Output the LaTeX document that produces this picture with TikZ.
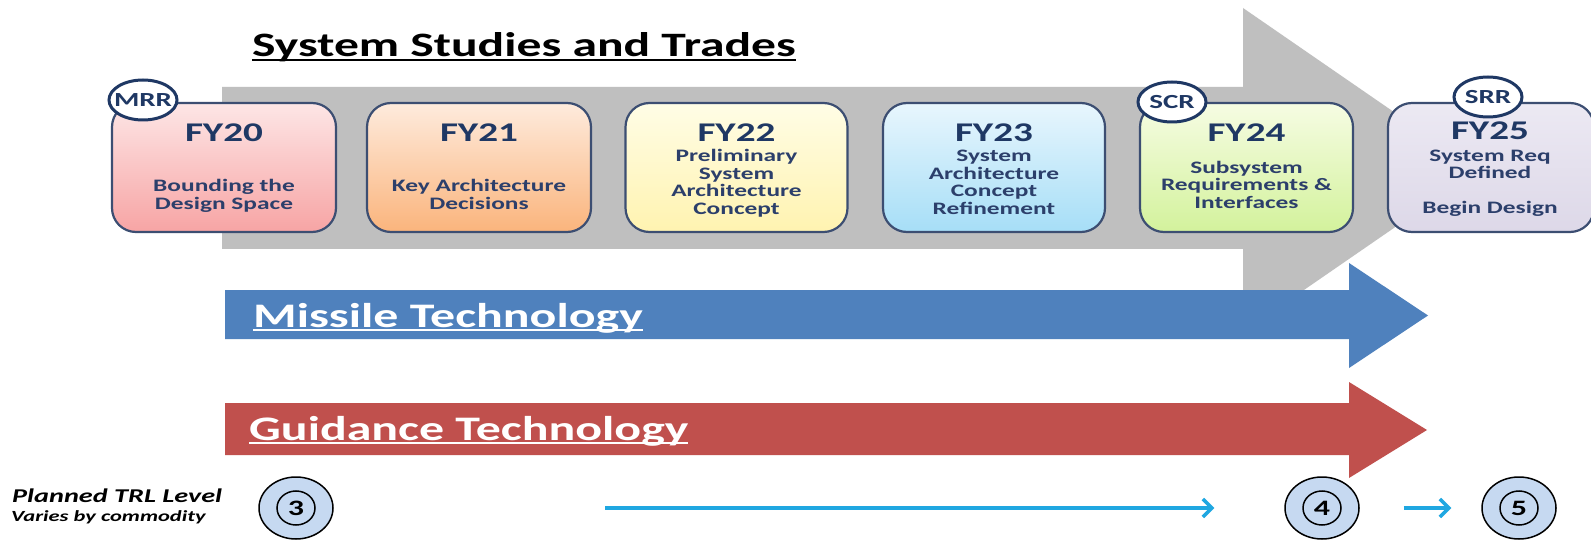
\documentclass[tikz,border=0pt]{standalone}
\usepackage{fontspec}
\setmainfont{Carlito}
\usetikzlibrary{arrows.meta,shapes.geometric}
\definecolor{garrow}{HTML}{BFBFBF}
\definecolor{bord}{HTML}{3C4E72}
\definecolor{navy}{HTML}{1F3864}
\definecolor{subc}{HTML}{2C3F6B}
\definecolor{blueA}{HTML}{4F81BD}
\definecolor{redA}{HTML}{C0504D}
\definecolor{cyanA}{HTML}{1FA7E1}
\definecolor{trl}{HTML}{C6D9F1}
\definecolor{p20t}{HTML}{FDE6E6}\definecolor{p20b}{HTML}{F7A4A4}
\definecolor{p21t}{HTML}{FEEBDD}\definecolor{p21b}{HTML}{FAB47C}
\definecolor{p22t}{HTML}{FFFDE6}\definecolor{p22b}{HTML}{FFF3B0}
\definecolor{p23t}{HTML}{E8F6FD}\definecolor{p23b}{HTML}{A6DEF7}
\definecolor{p24t}{HTML}{F6FCE3}\definecolor{p24b}{HTML}{D3F29C}
\definecolor{p25t}{HTML}{ECE9F3}\definecolor{p25b}{HTML}{DDD8E8}
\newcommand\hs[1]{\scalebox{1.45}[1]{#1}}
\newcommand\ulx[1]{\setbox0=\hbox{#1}\rlap{\rule[-0.13em]{\wd0}{0.06em}}\box0}
\newcommand\stk[2]{\vtop{\baselineskip=#1\lineskiplimit=-\maxdimen\lineskip=0pt\halign{\hfil##\hfil\cr#2\crcr}}}
\begin{document}
\begin{tikzpicture}[x=1pt,y=-1pt,
  fybox/.style={draw=bord, line width=2.2pt, rounded corners=24pt, minimum height=129pt, inner sep=0pt},
  fyt/.style={text=navy, font=\fontsize{27}{28}\selectfont\bfseries, anchor=base, inner sep=0pt},
  fys/.style={text=subc, font=\fontsize{17.5}{17.5}\selectfont\bfseries, anchor=base, inner sep=0pt},
  mile/.style={ellipse, draw=navy, line width=3pt, fill=white, minimum width=68pt, minimum height=40pt, inner sep=0pt, text=navy, font=\fontsize{20}{20}\selectfont\bfseries},
  trlc/.style={ellipse, draw=black, line width=1.5pt, fill=trl, minimum width=74pt, minimum height=62pt, inner sep=0pt, font=\fontsize{22}{22}\selectfont\bfseries},
  cyanarrow/.style={draw=cyanA, line width=3.5pt, -{Straight Barb[length=9pt,width=18pt]}},
  bigtxt/.style={anchor=base west, inner sep=0pt, text=white, font=\fontsize{34.4}{40}\selectfont\bfseries}]
\useasboundingbox (0,0) rectangle (1591,540);
\fill[white] (0,0) rectangle (1591,540);
% gray timeline arrow
\fill[garrow] (222,87) -- (1243,87) -- (1243,8) -- (1478,170) -- (1243,332) -- (1243,249) -- (222,249) -- cycle;
% title
\node[anchor=base west, inner sep=0pt, font=\fontsize{34.2}{40}\selectfont\bfseries] (title) at (252,57) {\hs{\ulx{System Studies and Trades}}};
% year boxes
\node[fybox, top color=p20t, bottom color=p20b, minimum width=224pt] (b20) at (224,167.5) {};
\node[fybox, top color=p21t, bottom color=p21b, minimum width=224pt] (b21) at (479,167.5) {};
\node[fybox, top color=p22t, bottom color=p22b, minimum width=222pt] (b22) at (736.5,167.5) {};
\node[fybox, top color=p23t, bottom color=p23b, minimum width=222pt] (b23) at (994,167.5) {};
\node[fybox, top color=p24t, bottom color=p24b, minimum width=213pt] (b24) at (1246.5,167.5) {};
\node[fybox, top color=p25t, bottom color=p25b, minimum width=206pt] (b25) at (1491,167.5) {};
% box texts
\node[fyt] (t20) at (224,141.5) {\hs{FY20}};
\node[fys] (s20) at (224,192) {\hs{\stk{17.5pt}{Bounding the\cr Design Space}}};
\node[fyt] (t21) at (479,141.5) {\hs{FY21}};
\node[fys] (s21) at (479,192) {\hs{\stk{17.5pt}{Key Architecture\cr Decisions}}};
\node[fyt] (t22) at (736.5,141.5) {\hs{FY22}};
\node[fys] (s22) at (736.5,162) {\hs{\stk{17.5pt}{Preliminary\cr System\cr Architecture\cr Concept}}};
\node[fyt] (t23) at (994,141.5) {\hs{FY23}};
\node[fys] (s23) at (994,162) {\hs{\stk{17.5pt}{System\cr Architecture\cr Concept\cr Refinement}}};
\node[fyt] (t24) at (1246.5,141.5) {\hs{FY24}};
\node[fys] (s24) at (1246.5,173.5) {\hs{\stk{17.5pt}{Subsystem\cr Requirements \&\cr Interfaces}}};
\node[fyt] (t25) at (1490,139.5) {\hs{FY25}};
\node[fys] (s25) at (1490,161.5) {\hs{\stk{17.5pt}{System Req\cr Defined\cr\cr Begin Design}}};
% milestones
\node[mile] (mrr) at (143,100) {\makebox[0pt]{\hs{MRR}}};
\node[mile] (scr) at (1172,102) {\makebox[0pt]{\hs{SCR}}};
\node[mile] (srr) at (1488,97) {\makebox[0pt]{\hs{SRR}}};
% technology arrows
\fill[blueA] (225,290) -- (1349,290) -- (1349,263) -- (1428,315.5) -- (1349,368) -- (1349,339) -- (225,339) -- cycle;
\node[bigtxt] (mt) at (253,327) {\hs{\ulx{Missile Technology}}};
% TRL circles
\node[trlc] (c3) at (296,508) {\hs{3}};
\node[trlc] (c4) at (1322,508) {\hs{4}};
\node[trlc] (c5) at (1519,508) {\hs{5}};
\foreach \c in {c3,c4,c5}
  \draw[line width=1.5pt] (\c.center) ellipse [x radius=19pt, y radius=17pt];
\fill[redA] (225,403) -- (1349,403) -- (1349,382) -- (1427,430) -- (1349,478) -- (1349,455) -- (225,455) -- cycle;
\node[bigtxt] (gt) at (249,440) {\hs{\ulx{Guidance Technology}}};
% TRL legend
\node[anchor=base west, inner sep=0pt, font=\fontsize{19.5}{20}\selectfont\bfseries\itshape] (pl) at (12,502) {\hs{Planned TRL Level}};
\node[anchor=base west, inner sep=0pt, font=\fontsize{15.5}{16}\selectfont\bfseries\itshape] (vc) at (11,521) {\hs{Varies by commodity}};
% cyan arrows
\coordinate (a1s) at (605,508);
\draw[cyanarrow, shorten >=70pt] (a1s) -- (c4);
\draw[cyanarrow, shorten <=44pt, shorten >=30pt] (c4) -- (c5);
\end{tikzpicture}
\end{document}
